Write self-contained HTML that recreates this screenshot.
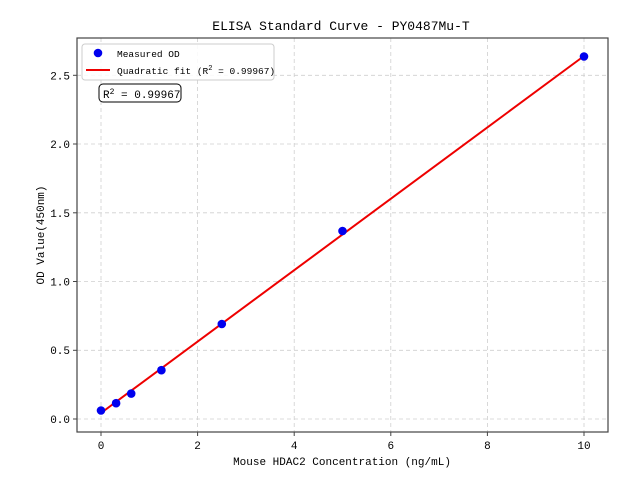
<!DOCTYPE html>
<html><head><meta charset="utf-8"><style>body{margin:0;background:#fff}svg{display:block}text{font-family:"Liberation Mono","Noto Sans CJK SC",monospace;fill:#000}</style></head><body>
<svg width="640" height="480" viewBox="0 0 640 480">
<g stroke="#cfcfcf" stroke-width="0.8" stroke-dasharray="4,3">
<line x1="101" y1="38" x2="101" y2="432"/><line x1="197.6" y1="38" x2="197.6" y2="432"/><line x1="294.2" y1="38" x2="294.2" y2="432"/><line x1="390.8" y1="38" x2="390.8" y2="432"/><line x1="487.4" y1="38" x2="487.4" y2="432"/><line x1="584" y1="38" x2="584" y2="432"/>
<line x1="77" y1="419" x2="608" y2="419"/><line x1="77" y1="350.3" x2="608" y2="350.3"/><line x1="77" y1="281.5" x2="608" y2="281.5"/><line x1="77" y1="212.8" x2="608" y2="212.8"/><line x1="77" y1="144" x2="608" y2="144"/><line x1="77" y1="75.3" x2="608" y2="75.3"/>
</g>
<rect x="77" y="38" width="531" height="394" fill="none" stroke="#444" stroke-width="1.2"/>
<g stroke="#444"><line x1="101" y1="432" x2="101" y2="436"/><line x1="197.6" y1="432" x2="197.6" y2="436"/><line x1="294.2" y1="432" x2="294.2" y2="436"/><line x1="390.8" y1="432" x2="390.8" y2="436"/><line x1="487.4" y1="432" x2="487.4" y2="436"/><line x1="584" y1="432" x2="584" y2="436"/>
<line x1="73" y1="419" x2="77" y2="419"/><line x1="73" y1="350.3" x2="77" y2="350.3"/><line x1="73" y1="281.5" x2="77" y2="281.5"/><line x1="73" y1="212.8" x2="77" y2="212.8"/><line x1="73" y1="144" x2="77" y2="144"/><line x1="73" y1="75.3" x2="77" y2="75.3"/></g>
<g font-size="11" text-anchor="middle"><text x="101" y="449">0</text><text x="197.6" y="449">2</text><text x="294.2" y="449">4</text><text x="390.8" y="449">6</text><text x="487.4" y="449">8</text><text x="584" y="449">10</text></g>
<g font-size="11" text-anchor="end"><text x="70" y="423">0.0</text><text x="70" y="354">0.5</text><text x="70" y="285.5">1.0</text><text x="70" y="217">1.5</text><text x="70" y="148">2.0</text><text x="70" y="79.5">2.5</text></g>
<text x="342" y="465" font-size="11" text-anchor="middle">Mouse HDAC2 Concentration (ng/mL)</text>
<text transform="translate(44,235) rotate(-90)" font-size="11" text-anchor="middle">OD Value(450nm)</text>
<text x="341" y="30" font-size="13" text-anchor="middle">ELISA Standard Curve - PY0487Mu-T</text>
<polyline fill="none" stroke="#e00" stroke-width="2" points="101,413 584,56"/>
<g fill="#0000ee"><circle cx="101" cy="410.5" r="4.3"/><circle cx="116.1" cy="403.2" r="4.3"/><circle cx="131.2" cy="393.6" r="4.3"/><circle cx="161.4" cy="370.2" r="4.3"/><circle cx="221.8" cy="324" r="4.3"/><circle cx="342.5" cy="231" r="4.3"/><circle cx="584" cy="56.5" r="4.3"/></g>
<rect x="82" y="44" width="192" height="36" rx="3" fill="#fff" fill-opacity="0.85" stroke="#ccc"/>
<circle cx="98" cy="53" r="4.3" fill="#0000ee"/>
<text x="117" y="57" font-size="9.5">Measured OD</text>
<line x1="86" y1="70" x2="110" y2="70" stroke="#e00" stroke-width="2"/>
<text x="117" y="74" font-size="9.5">Quadratic fit (R<tspan font-size="7" dy="-4">2</tspan><tspan dy="4"> = 0.99967)</tspan></text>
<rect x="99" y="84" width="82" height="18" rx="4" fill="#fff" stroke="#000"/>
<text x="103" y="98" font-size="11">R<tspan font-size="8" dy="-4">2</tspan><tspan dy="4"> = 0.99967</tspan></text>
</svg>
</body></html>
